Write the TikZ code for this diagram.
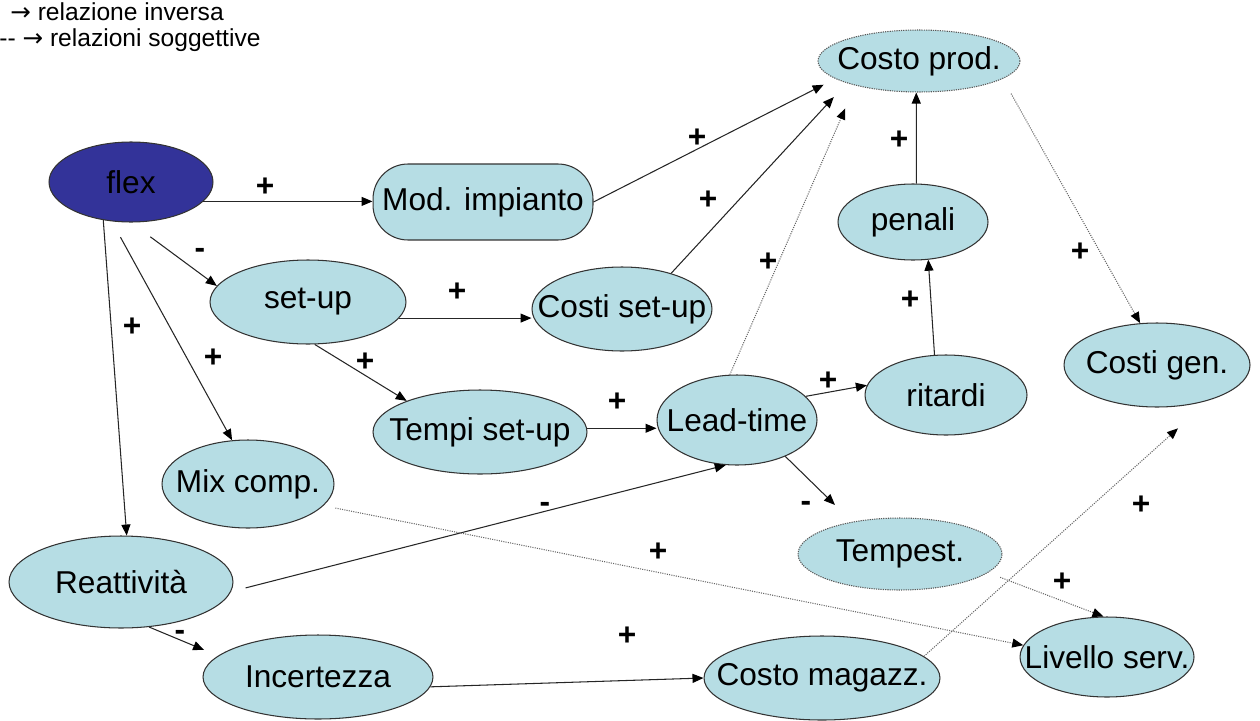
\documentclass[tikz,border=0pt]{standalone}
\usepackage{fontspec}
\setmainfont{Liberation Sans}
\newfontfamily\arrowfont{DejaVu Sans}
\usetikzlibrary{arrows.meta,shapes.geometric}
\definecolor{nodefill}{RGB}{182,221,228}
\definecolor{flexfill}{RGB}{51,51,153}
\newcommand{\zb}[1]{\makebox[0pt][c]{#1}}
\newcommand{\rarr}{{\arrowfont →}}
\begin{document}
\begin{tikzpicture}[x=0.02cm,y=-0.02cm,
  font=\fontsize{18}{21}\selectfont,
  ell/.style={ellipse, draw=black!80, line width=0.6pt, fill=nodefill, inner sep=0pt},
  dotell/.style={ell, draw=black!65, dash pattern=on 0.7pt off 0.6pt},
  conn/.style={draw=black!85, line width=0.6pt, -{Triangle[length=2.2mm,width=1.8mm,color=black]}},
  dotconn/.style={conn, draw=black!60, dash pattern=on 0.6pt off 0.7pt},
  sign/.style={font=\fontsize{18}{21}\selectfont\bfseries, inner sep=0pt},
  legend/.style={font=\fontsize{14}{16}\selectfont, anchor=west, inner sep=0pt}
]
\useasboundingbox (0,0) rectangle (1260,720);

% legend
\node[legend] (leg1) at (10,12) {\rarr{} relazione inversa};
\node[legend] (leg2) at (-1,40) {-{}- \rarr{} relazioni soggettive};

% nodes
\node[ell, fill=flexfill, minimum width=3.28cm, minimum height=1.6cm] (flex) at (131,182) {\zb{flex}};
\node[draw=black!80, line width=0.6pt, fill=nodefill, rounded corners=0.7cm, inner sep=0pt,
      minimum width=4.4cm, minimum height=1.52cm] (mod) at (483,202) {\zb{Mod. impianto}};
\node[dotell, minimum width=4.04cm, minimum height=1.24cm] (cprod) at (919,61) {\zb{Costo prod.}};
\node[ell, minimum width=3.0cm, minimum height=1.52cm] (pen) at (913,222) {\zb{penali}};
\node[ell, minimum width=3.92cm, minimum height=1.68cm] (setup) at (308,302) {\zb{set-up}};
\node[ell, minimum width=3.6cm, minimum height=1.68cm] (csetup) at (622,309) {\zb{Costi set-up}};
\node[ell, minimum width=3.24cm, minimum height=1.6cm] (rit) at (946,395) {\zb{ritardi}};
\node[ell, minimum width=3.72cm, minimum height=1.68cm] (cgen) at (1157,365) {\zb{Costi gen.}};
\node[ell, minimum width=4.28cm, minimum height=1.68cm] (tsetup) at (480,432) {\zb{Tempi set-up}};
\node[ell, minimum width=3.2cm, minimum height=1.8cm] (lead) at (737,420) {\zb{Lead-time}};
\node[ell, minimum width=3.44cm, minimum height=1.76cm] (mix) at (248,484) {\zb{Mix comp.}};
\node[ell, minimum width=4.48cm, minimum height=1.84cm] (reatt) at (121,582) {\zb{Reattività}};
\node[ell, minimum width=4.6cm, minimum height=1.68cm] (inc) at (318,677) {\zb{Incertezza}};
\node[dotell, minimum width=4.08cm, minimum height=1.44cm] (temp) at (900,554) {\zb{Tempest.}};
\node[ell, minimum width=3.48cm, minimum height=1.6cm] (liv) at (1107,657) {\zb{Livello serv.}};
\node[ell, minimum width=4.72cm, minimum height=1.68cm] (cmag) at (822,678) {\zb{Costo magazz.}};

% connectors
\draw[conn] (flex.-15) -- (flex.-15 -| mod.west);
\draw[conn, shorten <=0.48cm] (flex.-90) -- (setup.170);
\draw[conn, shorten <=0.36cm] (flex.-116) -- (mix.110);
\draw[conn] (flex.-126) -- (reatt.83);
\draw[conn, shorten >=0.26cm] (mod.east) -- (cprod.192);
\draw[conn] (setup.-10) -- (setup.-10 -| csetup.west);
\draw[conn] (setup.-81) -- (tsetup.157);
\draw[conn, shorten >=0.38cm] (csetup.36) -- (cprod.197);
\draw[dotconn, shorten >=0.5cm] (lead.99) -- (cprod.201);
\draw[conn] (pen.85) -- (cprod.-95);
\draw[conn] (rit.106) -- (pen.-68);
\draw[dotconn, shorten <=0.34cm] (cprod.-12) -- (cgen.112);
\draw[conn] (tsetup.2) -- (tsetup.2 -| lead.west);
\draw[conn] (lead.19) -- (rit.173);
\draw[conn, shorten >=0.48cm] (lead.-37) -- (temp.146);
\draw[conn, shorten <=0.3cm] (reatt.-5) -- (lead.-104);
\draw[dotconn, shorten <=0.24cm] (mix.-16) -- (liv.172);
\draw[dotconn, shorten <=0.26cm] (temp.-12) -- (liv.95);
\draw[dotconn, shorten >=0.84cm] (cmag.12) -- (cgen.-34);
\draw[conn, shorten >=0.3cm] (reatt.-58) -- (inc.168);
\draw[conn] (inc.-5) -- (cmag.west);

% signs
\node[sign] (l1) at (265,187) {+};
\node[sign] (l2) at (200,253) {-};
\node[sign] (l3) at (213,358) {+};
\node[sign] (l4) at (132,327) {+};
\node[sign] (l5) at (697,138) {+};
\node[sign] (l6) at (457,292) {+};
\node[sign] (l7) at (365,362) {+};
\node[sign] (l8) at (708,200) {+};
\node[sign] (l9) at (768,262) {+};
\node[sign] (l10) at (899,140) {+};
\node[sign] (l11) at (910,300) {+};
\node[sign] (l12) at (1080,252) {+};
\node[sign] (l13) at (617,402) {+};
\node[sign] (l14) at (828,381) {+};
\node[sign] (l15) at (806,506) {-};
\node[sign] (l16) at (545,507) {-};
\node[sign] (l17) at (658,552) {+};
\node[sign] (l18) at (1062,582) {+};
\node[sign] (l19) at (1141,505) {+};
\node[sign] (l20) at (180,635) {-};
\node[sign] (l21) at (627,636) {+};
\end{tikzpicture}
\end{document}
